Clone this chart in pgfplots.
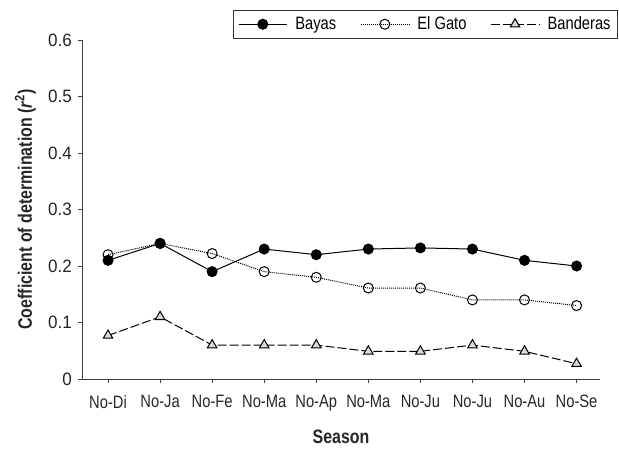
\documentclass[border=0pt]{standalone}
\usepackage{fontspec}
\setmainfont{Liberation Sans}[FakeStretch=0.82]
\newfontfamily\numfont{Liberation Sans}[FakeStretch=0.95]
\usepackage{pgfplots}
\pgfplotsset{compat=1.18}
\begin{document}
\fontsize{18}{21}\selectfont
\begin{tikzpicture}
\useasboundingbox (-82bp,-73bp) rectangle (537bp,379bp);
\begin{axis}[
  at={(0,0)}, anchor=south west,
  scale only axis, width=518bp, height=339bp,
  xmin=-0.5, xmax=9.45, ymin=0, ymax=0.6,
  axis x line*=bottom, axis y line*=left,
  axis line style={line width=0.8bp, color=black!75},
  xtick={0,...,9},
  xticklabels={No-Di,No-Ja,No-Fe,No-Ma,No-Ap,No-Ma,No-Ju,No-Ju,No-Au,No-Se},
  ytick={0,0.1,...,0.6},
  yticklabels={0,0.1,0.2,0.3,0.4,0.5,0.6},
  tick align=outside, major tick length=4bp,
  tick style={line width=0.8bp, color=black!75},
  tick label style={font=\fontsize{18}{21}\selectfont, color=black!85},
  yticklabel style={font=\numfont\fontsize{18}{21}\selectfont},
  /pgf/number format/assume math mode=true,
  xticklabel style={yshift=-6bp},
  xlabel={\textbf{Season}},
  ylabel={\textbf{Coefficient of determination (\textit{r}\textsuperscript{2})}},
  label style={font=\fontsize{19.5}{22}\selectfont, color=black!85},
  ylabel style={yshift=0bp},
  xlabel style={yshift=-7bp},
  legend columns=3,
  legend image code/.code={\draw[mark repeat=2, mark phase=2] plot coordinates {(0cm,0cm) (0.85cm,0cm) (1.7cm,0cm)};},
  legend style={at={(1.0347,1.0885)}, anchor=north east, draw=black!80, line width=0.8bp,
    font=\fontsize{18}{21}\selectfont, inner xsep=5bp, inner ysep=4bp,
    /tikz/every odd column/.append style={column sep=6bp},
    /tikz/every even column/.append style={column sep=22bp}},
  legend cell align=left,
]
\addplot[black, line width=1bp, mark=*, mark size=5bp, mark options={solid, fill=black}]
coordinates {(0,0.21)(1,0.24)(2,0.19)(3,0.23)(4,0.22)(5,0.23)(6,0.232)(7,0.23)(8,0.21)(9,0.20)};
\addlegendentry{Bayas}
\addplot[black, line width=1bp, densely dotted, mark=o, mark size=5bp, mark options={solid, fill=white}]
coordinates {(0,0.22)(1,0.24)(2,0.222)(3,0.19)(4,0.18)(5,0.161)(6,0.161)(7,0.14)(8,0.14)(9,0.13)};
\addlegendentry{El Gato}
\addplot[black, line width=1bp, dash pattern=on 9bp off 3bp, mark=triangle*, mark size=5.5bp, mark options={solid, fill=black!15}]
coordinates {(0,0.077)(1,0.11)(2,0.06)(3,0.06)(4,0.06)(5,0.049)(6,0.049)(7,0.06)(8,0.049)(9,0.027)};
\addlegendentry{Banderas}
\end{axis}
\end{tikzpicture}
\end{document}
